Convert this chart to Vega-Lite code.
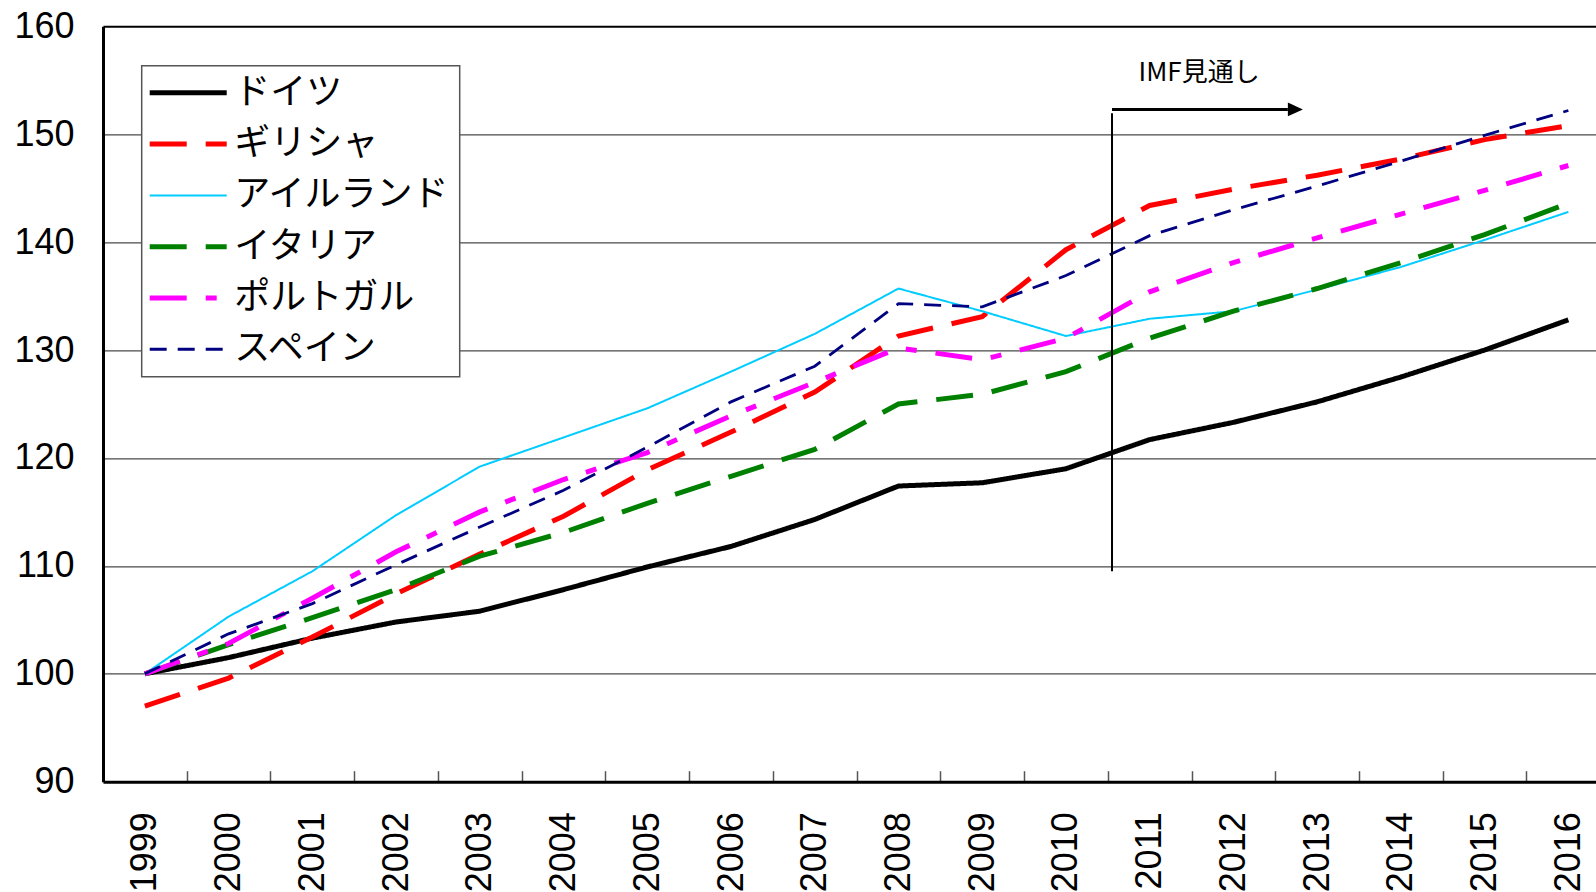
{
  "$schema": "https://vega.github.io/schema/vega-lite/v6.json",
  "width": 1493,
  "height": 755.4,
  "autosize": {"type": "none"},
  "padding": {"left": 103, "top": 26.3, "right": 0, "bottom": 110.3},
  "background": "white",
  "config": {"view": {"stroke": null}, "font": "Liberation Sans"},
  "datasets": {
    "series": [
      {"country": "ドイツ", "year": 1999, "value": 100},
      {"country": "ドイツ", "year": 2000, "value": 101.5},
      {"country": "ドイツ", "year": 2001, "value": 103.3},
      {"country": "ドイツ", "year": 2002, "value": 104.8},
      {"country": "ドイツ", "year": 2003, "value": 105.8},
      {"country": "ドイツ", "year": 2004, "value": 107.8},
      {"country": "ドイツ", "year": 2005, "value": 109.9},
      {"country": "ドイツ", "year": 2006, "value": 111.8},
      {"country": "ドイツ", "year": 2007, "value": 114.3},
      {"country": "ドイツ", "year": 2008, "value": 117.4},
      {"country": "ドイツ", "year": 2009, "value": 117.7},
      {"country": "ドイツ", "year": 2010, "value": 119.0},
      {"country": "ドイツ", "year": 2011, "value": 121.7},
      {"country": "ドイツ", "year": 2012, "value": 123.3},
      {"country": "ドイツ", "year": 2013, "value": 125.2},
      {"country": "ドイツ", "year": 2014, "value": 127.5},
      {"country": "ドイツ", "year": 2015, "value": 130.0},
      {"country": "ドイツ", "year": 2016, "value": 132.8},
      {"country": "ギリシャ", "year": 1999, "value": 97.0},
      {"country": "ギリシャ", "year": 2000, "value": 99.6},
      {"country": "ギリシャ", "year": 2001, "value": 103.4},
      {"country": "ギリシャ", "year": 2002, "value": 107.4},
      {"country": "ギリシャ", "year": 2003, "value": 111.1},
      {"country": "ギリシャ", "year": 2004, "value": 114.6},
      {"country": "ギリシャ", "year": 2005, "value": 118.9},
      {"country": "ギリシャ", "year": 2006, "value": 122.4},
      {"country": "ギリシャ", "year": 2007, "value": 126.1},
      {"country": "ギリシャ", "year": 2008, "value": 131.3},
      {"country": "ギリシャ", "year": 2009, "value": 133.1},
      {"country": "ギリシャ", "year": 2010, "value": 139.3},
      {"country": "ギリシャ", "year": 2011, "value": 143.4},
      {"country": "ギリシャ", "year": 2012, "value": 144.9},
      {"country": "ギリシャ", "year": 2013, "value": 146.2},
      {"country": "ギリシャ", "year": 2014, "value": 147.7},
      {"country": "ギリシャ", "year": 2015, "value": 149.5},
      {"country": "ギリシャ", "year": 2016, "value": 150.8},
      {"country": "アイルランド", "year": 1999, "value": 100},
      {"country": "アイルランド", "year": 2000, "value": 105.3},
      {"country": "アイルランド", "year": 2001, "value": 109.5},
      {"country": "アイルランド", "year": 2002, "value": 114.7},
      {"country": "アイルランド", "year": 2003, "value": 119.2},
      {"country": "アイルランド", "year": 2004, "value": 121.9},
      {"country": "アイルランド", "year": 2005, "value": 124.6},
      {"country": "アイルランド", "year": 2006, "value": 128.0},
      {"country": "アイルランド", "year": 2007, "value": 131.5},
      {"country": "アイルランド", "year": 2008, "value": 135.7},
      {"country": "アイルランド", "year": 2009, "value": 133.6},
      {"country": "アイルランド", "year": 2010, "value": 131.3},
      {"country": "アイルランド", "year": 2011, "value": 132.9},
      {"country": "アイルランド", "year": 2012, "value": 133.6},
      {"country": "アイルランド", "year": 2013, "value": 135.6},
      {"country": "アイルランド", "year": 2014, "value": 137.7},
      {"country": "アイルランド", "year": 2015, "value": 140.2},
      {"country": "アイルランド", "year": 2016, "value": 142.8},
      {"country": "イタリア", "year": 1999, "value": 100},
      {"country": "イタリア", "year": 2000, "value": 102.7},
      {"country": "イタリア", "year": 2001, "value": 105.2},
      {"country": "イタリア", "year": 2002, "value": 107.8},
      {"country": "イタリア", "year": 2003, "value": 110.9},
      {"country": "イタリア", "year": 2004, "value": 113.1},
      {"country": "イタリア", "year": 2005, "value": 115.8},
      {"country": "イタリア", "year": 2006, "value": 118.3},
      {"country": "イタリア", "year": 2007, "value": 120.8},
      {"country": "イタリア", "year": 2008, "value": 125.0},
      {"country": "イタリア", "year": 2009, "value": 125.9},
      {"country": "イタリア", "year": 2010, "value": 128.0},
      {"country": "イタリア", "year": 2011, "value": 131.1},
      {"country": "イタリア", "year": 2012, "value": 133.6},
      {"country": "イタリア", "year": 2013, "value": 135.7},
      {"country": "イタリア", "year": 2014, "value": 138.1},
      {"country": "イタリア", "year": 2015, "value": 140.7},
      {"country": "イタリア", "year": 2016, "value": 143.6},
      {"country": "ポルトガル", "year": 1999, "value": 100},
      {"country": "ポルトガル", "year": 2000, "value": 102.8},
      {"country": "ポルトガル", "year": 2001, "value": 107.0},
      {"country": "ポルトガル", "year": 2002, "value": 111.3},
      {"country": "ポルトガル", "year": 2003, "value": 115.0},
      {"country": "ポルトガル", "year": 2004, "value": 118.0},
      {"country": "ポルトガル", "year": 2005, "value": 120.5},
      {"country": "ポルトガル", "year": 2006, "value": 123.9},
      {"country": "ポルトガル", "year": 2007, "value": 127.0},
      {"country": "ポルトガル", "year": 2008, "value": 130.2},
      {"country": "ポルトガル", "year": 2009, "value": 129.1},
      {"country": "ポルトガル", "year": 2010, "value": 131.1},
      {"country": "ポルトガル", "year": 2011, "value": 135.4},
      {"country": "ポルトガル", "year": 2012, "value": 138.1},
      {"country": "ポルトガル", "year": 2013, "value": 140.4},
      {"country": "ポルトガル", "year": 2014, "value": 142.6},
      {"country": "ポルトガル", "year": 2015, "value": 144.8},
      {"country": "ポルトガル", "year": 2016, "value": 147.1},
      {"country": "スペイン", "year": 1999, "value": 100},
      {"country": "スペイン", "year": 2000, "value": 103.7},
      {"country": "スペイン", "year": 2001, "value": 106.5},
      {"country": "スペイン", "year": 2002, "value": 110.1},
      {"country": "スペイン", "year": 2003, "value": 113.6},
      {"country": "スペイン", "year": 2004, "value": 117.0},
      {"country": "スペイン", "year": 2005, "value": 121.0},
      {"country": "スペイン", "year": 2006, "value": 125.2},
      {"country": "スペイン", "year": 2007, "value": 128.5},
      {"country": "スペイン", "year": 2008, "value": 134.3},
      {"country": "スペイン", "year": 2009, "value": 134.0},
      {"country": "スペイン", "year": 2010, "value": 136.9},
      {"country": "スペイン", "year": 2011, "value": 140.6},
      {"country": "スペイン", "year": 2012, "value": 143.0},
      {"country": "スペイン", "year": 2013, "value": 145.2},
      {"country": "スペイン", "year": 2014, "value": 147.5},
      {"country": "スペイン", "year": 2015, "value": 149.9},
      {"country": "スペイン", "year": 2016, "value": 152.2}
    ],
    "divider": [{"x": 2010.55, "y": 109.5, "y2": 151.95}],
    "arrowLine": [{"x": 2010.55, "x2": 2012.65, "y": 152.3}],
    "arrowHead": [{"x": 2012.74, "y": 152.3}],
    "note": [{"x": 2011.59, "y": 155.67, "label": "IMF見通し"}]
  },
  "layer": [
    {
      "data": {"name": "series"},
      "mark": {"type": "line", "clip": true},
      "encoding": {
        "x": {
          "field": "year",
          "type": "quantitative",
          "title": null,
          "scale": {"domain": [1998.5, 2016.33], "nice": false, "zero": false},
          "axis": {
            "title": null,
            "values": [1999, 1999.5, 2000, 2000.5, 2001, 2001.5, 2002, 2002.5, 2003, 2003.5, 2004, 2004.5, 2005, 2005.5, 2006, 2006.5, 2007, 2007.5, 2008, 2008.5, 2009, 2009.5, 2010, 2010.5, 2011, 2011.5, 2012, 2012.5, 2013, 2013.5, 2014, 2014.5, 2015, 2015.5, 2016],
            "labelExpr": "datum.value % 1 === 0 ? '' + datum.value : ''",
            "labelAngle": -90,
            "labelAlign": "right",
            "labelBaseline": "middle",
            "labelFont": "Liberation Sans",
            "labelFontSize": 36,
            "labelColor": "black",
            "labelPadding": 41,
            "labelOverlap": false,
            "labelFlush": false,
            "tickSize": -11,
            "tickColor": "#555",
            "tickWidth": 1.5,
            "tickOpacity": {"condition": {"test": "datum.value % 1 === 0", "value": 0}, "value": 1},
            "domainColor": "black",
            "domainWidth": 3,
            "grid": false
          }
        },
        "y": {
          "field": "value",
          "type": "quantitative",
          "title": null,
          "scale": {"domain": [90, 160], "nice": false, "zero": false},
          "axis": {
            "title": null,
            "values": [90, 100, 110, 120, 130, 140, 150, 160],
            "labelFont": "Liberation Sans",
            "labelFontSize": 36,
            "labelColor": "black",
            "labelPadding": 29,
            "labelFlush": false,
            "labelOverlap": false,
            "ticks": false,
            "domainColor": "black",
            "domainWidth": 3,
            "grid": true,
            "gridColor": {"condition": {"test": "datum.value === 160", "value": "black"}, "value": "#4a4a4a"},
            "gridWidth": {"condition": {"test": "datum.value === 160", "value": 2}, "value": 1.2}
          }
        },
        "color": {
          "field": "country",
          "type": "nominal",
          "scale": {
            "domain": ["ドイツ", "ギリシャ", "アイルランド", "イタリア", "ポルトガル", "スペイン"],
            "range": ["#000000", "#ff0000", "#00ccff", "#008000", "#ff00ff", "#000080"]
          },
          "legend": {
            "title": null,
            "orient": "none",
            "legendX": 38.7,
            "legendY": 39.5,
            "symbolType": "stroke",
            "symbolSize": 5929,
            "symbolOffset": 19.5,
            "labelFont": "Noto Sans CJK JP",
            "labelFontSize": 36,
            "labelColor": "black",
            "labelLimit": 400,
            "labelOffset": 28.1,
            "fillColor": "white",
            "strokeColor": "#555",
            "padding": 9,
            "rowPadding": 15.3,
            "encode": {
              "legend": {"update": {"strokeWidth": {"value": 1.5}}},
              "symbols": {
                "update": {
                  "strokeWidth": {"signal": "datum.value === 'アイルランド' ? 2 : datum.value === 'スペイン' ? 3 : 5"}
                }
              }
            }
          }
        },
        "strokeDash": {
          "field": "country",
          "type": "nominal",
          "scale": {
            "domain": ["ドイツ", "ギリシャ", "アイルランド", "イタリア", "ポルトガル", "スペイン"],
            "range": [[1, 0], [37, 19], [1, 0], [37, 19], [37, 19, 11, 19], [17, 11]]
          }
        },
        "strokeWidth": {
          "condition": [
            {"test": "datum.country === 'アイルランド'", "value": 2},
            {"test": "datum.country === 'スペイン'", "value": 2.8}
          ],
          "value": 5
        }
      }
    },
    {
      "data": {"name": "divider"},
      "mark": {"type": "rule", "color": "black", "strokeWidth": 2},
      "encoding": {
        "x": {"field": "x", "type": "quantitative", "title": null},
        "y": {"field": "y", "type": "quantitative", "title": null},
        "y2": {"field": "y2"}
      }
    },
    {
      "data": {"name": "arrowLine"},
      "mark": {"type": "rule", "color": "black", "strokeWidth": 3},
      "encoding": {
        "x": {"field": "x", "type": "quantitative", "title": null},
        "x2": {"field": "x2"},
        "y": {"field": "y", "type": "quantitative", "title": null}
      }
    },
    {
      "data": {"name": "arrowHead"},
      "mark": {"type": "point", "shape": "M-1,-0.93L1,0L-1,0.93Z", "size": 225, "filled": true, "color": "black", "opacity": 1},
      "encoding": {
        "x": {"field": "x", "type": "quantitative", "title": null},
        "y": {"field": "y", "type": "quantitative", "title": null}
      }
    },
    {
      "data": {"name": "note"},
      "mark": {"type": "text", "font": "Noto Sans CJK JP", "fontSize": 26, "color": "black", "align": "center", "baseline": "middle"},
      "encoding": {
        "x": {"field": "x", "type": "quantitative", "title": null},
        "y": {"field": "y", "type": "quantitative", "title": null},
        "text": {"field": "label"}
      }
    }
  ]
}
